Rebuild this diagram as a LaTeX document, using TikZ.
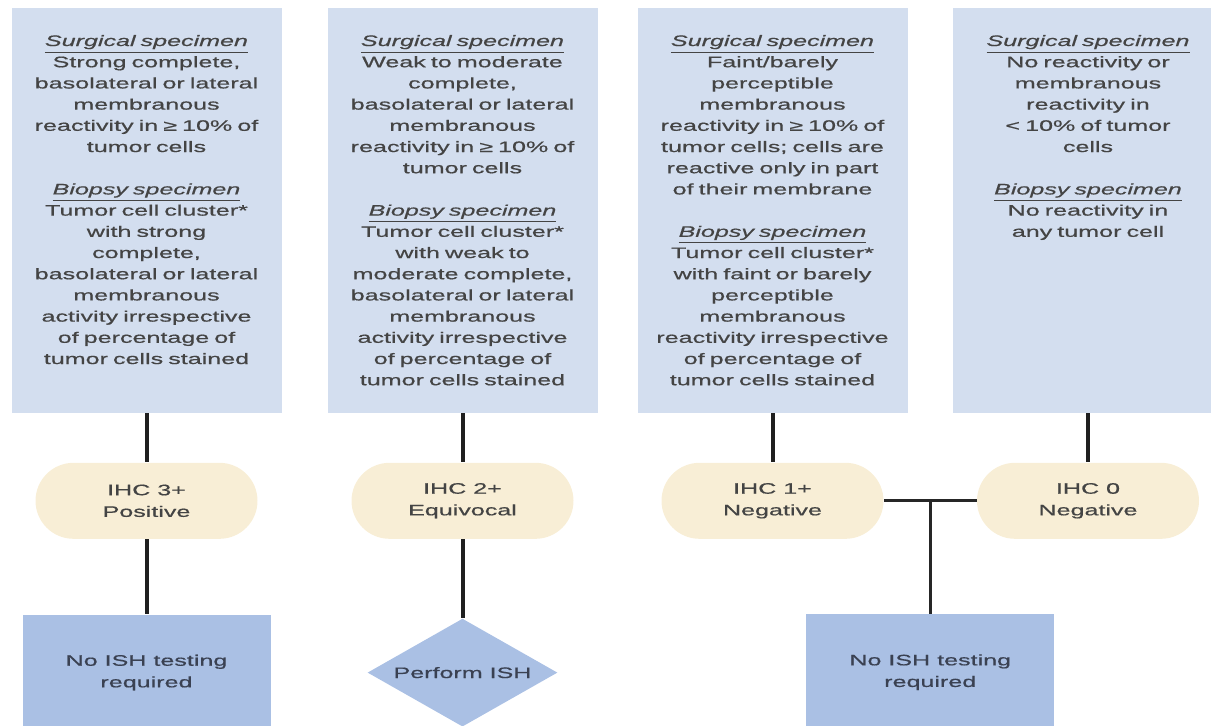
\documentclass[tikz,border=0pt]{standalone}
\usepackage{fontspec}
\setmainfont[FakeStretch=1.65, FakeBold=0.6]{Liberation Sans}
\usetikzlibrary{positioning, shapes.geometric}
\definecolor{specblue}{HTML}{D3DEEF}
\definecolor{ihcbeige}{HTML}{F8EED6}
\definecolor{ishblue}{HTML}{AAC0E4}
\definecolor{inkgray}{HTML}{444444}
\definecolor{inkslate}{HTML}{3A4152}
\newcommand{\spechead}[1]{\underline{\textit{#1}}}
\tikzset{
    specbox/.style={fill=specblue, minimum width=135pt, minimum height=202.5pt, inner sep=0pt},
    spectext/.style={text width=135pt, align=center, inner sep=0pt, text=inkgray,
        font=\fontsize{7.6pt}{10.6pt}\selectfont},
    ihc/.style={fill=ihcbeige, rounded corners=19pt, minimum width=111pt, minimum height=38pt,
        align=center, text=inkgray, font=\fontsize{7.6pt}{10.8pt}\selectfont},
    ishbox/.style={fill=ishblue, minimum width=124pt, minimum height=58pt,
        align=center, text=inkslate, font=\fontsize{7.6pt}{10.8pt}\selectfont},
    ishdiamond/.style={diamond, fill=ishblue, aspect=1.73, minimum width=95pt, minimum height=54pt,
        inner sep=0pt, text=inkslate, font=\fontsize{7.6pt}{10.8pt}\selectfont},
    link/.style={line width=2pt, draw=black!88},
    tlink/.style={line width=1.5pt, draw=black!85}
}

\begin{document}
\begin{tikzpicture}[x=0.5pt, y=-0.5pt]
    \useasboundingbox (0,0) rectangle (1211,725);
    \clip (0,0) rectangle (1211,725);

    \node[specbox] (s1) at (146.5,210.5) {};
    \node[specbox] (s2) at (462.5,210.5) {};
    \node[specbox] (s3) at (772.5,210.5) {};
    \node[specbox] (s4) at (1088,210.5) {};

    \node[spectext, below=13.5pt of s1.north] (t1) {\spechead{Surgical specimen}\\
        Strong complete,\\ basolateral or lateral\\ membranous\\
        reactivity in ≥ 10\% of\\ tumor cells\\[10.6pt]
        \spechead{Biopsy specimen}\\ Tumor cell cluster*\\ with strong\\ complete,\\
        basolateral or lateral\\ membranous\\ activity irrespective\\
        of percentage of\\ tumor cells stained};
    \node[spectext, below=13.5pt of s2.north] (t2) {\spechead{Surgical specimen}\\
        Weak to moderate\\ complete,\\ basolateral or lateral\\ membranous\\
        reactivity in ≥ 10\% of\\ tumor cells\\[10.6pt]
        \spechead{Biopsy specimen}\\ Tumor cell cluster*\\ with weak to\\
        moderate complete,\\ basolateral or lateral\\ membranous\\
        activity irrespective\\ of percentage of\\ tumor cells stained};
    \node[spectext, below=13.5pt of s3.north] (t3) {\spechead{Surgical specimen}\\
        Faint/barely\\ perceptible\\ membranous\\ reactivity in ≥ 10\% of\\
        tumor cells; cells are\\ reactive only in part\\ of their membrane\\[10.6pt]
        \spechead{Biopsy specimen}\\ Tumor cell cluster*\\ with faint or barely\\
        perceptible\\ membranous\\ reactivity irrespective\\ of percentage of\\
        tumor cells stained};
    \node[spectext, below=13.5pt of s4.north] (t4) {\spechead{Surgical specimen}\\
        No reactivity or\\ membranous\\ reactivity in\\ < 10\% of tumor\\ cells\\[10.6pt]
        \spechead{Biopsy specimen}\\ No reactivity in\\ any tumor cell};

    \node[ihc, below=24.5pt of s1] (o1) {IHC 3+\\Positive};
    \node[ihc, below=24.5pt of s2] (o2) {IHC 2+\\Equivocal};
    \node[ihc, below=24.5pt of s3] (o3) {IHC 1+\\Negative};
    \node[ihc, below=24.5pt of s4] (o4) {IHC 0\\Negative};

    \node[ishbox, below=37.5pt of o1] (r1) {No ISH testing\\required};
    \node[ishdiamond, below=39.5pt of o2] (d2) {Perform ISH};
    \path (o3.east) -- coordinate[midway] (j) (o4.west);
    \node[ishbox, below=56.5pt of j] (r3) {No ISH testing\\required};

    \foreach \i in {1,...,4}
        \draw[link] (s\i) -- (o\i);
    \draw[link] (o1) -- (r1);
    \draw[link] (o2) -- (d2);
    \draw[tlink] (o3) -- (o4);
    \draw[tlink] (j) -- (r3);
\end{tikzpicture}
\end{document}
